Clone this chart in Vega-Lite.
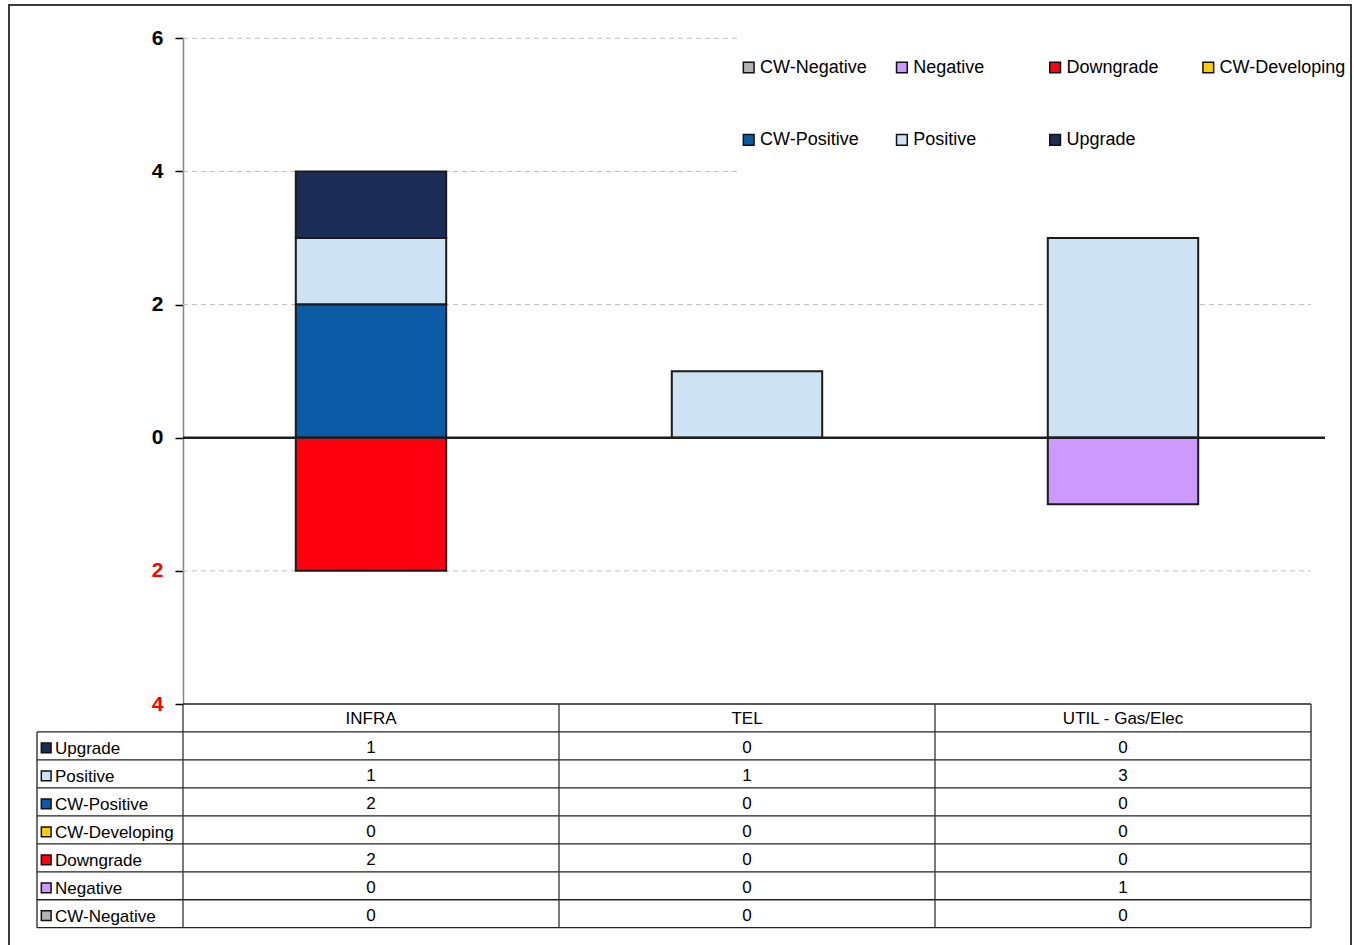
{
  "$schema": "https://vega.github.io/schema/vega-lite/v6.json",
  "width": 1342,
  "height": 941,
  "autosize": {"type": "none"},
  "padding": {"left": 9, "top": 5, "right": 3, "bottom": 0},
  "background": "white",
  "view": {"stroke": "#3a3a3a", "strokeWidth": 2},
  "config": {"font": "Liberation Sans"},
  "datasets": {
    "cells": [
      {"cat": "INFRA", "status": "Upgrade", "n": 1, "bar": 1},
      {"cat": "INFRA", "status": "Positive", "n": 1, "bar": 1},
      {"cat": "INFRA", "status": "CW-Positive", "n": 2, "bar": 2},
      {"cat": "INFRA", "status": "CW-Developing", "n": 0, "bar": 0},
      {"cat": "INFRA", "status": "Downgrade", "n": 2, "bar": -2},
      {"cat": "INFRA", "status": "Negative", "n": 0, "bar": 0},
      {"cat": "INFRA", "status": "CW-Negative", "n": 0, "bar": 0},
      {"cat": "TEL", "status": "Upgrade", "n": 0, "bar": 0},
      {"cat": "TEL", "status": "Positive", "n": 1, "bar": 1},
      {"cat": "TEL", "status": "CW-Positive", "n": 0, "bar": 0},
      {"cat": "TEL", "status": "CW-Developing", "n": 0, "bar": 0},
      {"cat": "TEL", "status": "Downgrade", "n": 0, "bar": 0},
      {"cat": "TEL", "status": "Negative", "n": 0, "bar": 0},
      {"cat": "TEL", "status": "CW-Negative", "n": 0, "bar": 0},
      {"cat": "UTIL - Gas/Elec", "status": "Upgrade", "n": 0, "bar": 0},
      {"cat": "UTIL - Gas/Elec", "status": "Positive", "n": 3, "bar": 3},
      {"cat": "UTIL - Gas/Elec", "status": "CW-Positive", "n": 0, "bar": 0},
      {"cat": "UTIL - Gas/Elec", "status": "CW-Developing", "n": 0, "bar": 0},
      {"cat": "UTIL - Gas/Elec", "status": "Downgrade", "n": 0, "bar": 0},
      {"cat": "UTIL - Gas/Elec", "status": "Negative", "n": 1, "bar": -1},
      {"cat": "UTIL - Gas/Elec", "status": "CW-Negative", "n": 0, "bar": 0}
    ],
    "cats": [{"cat": "INFRA"}, {"cat": "TEL"}, {"cat": "UTIL - Gas/Elec"}],
    "statuses": [
      {"status": "Upgrade"}, {"status": "Positive"}, {"status": "CW-Positive"},
      {"status": "CW-Developing"}, {"status": "Downgrade"}, {"status": "Negative"},
      {"status": "CW-Negative"}
    ],
    "one": [{}]
  },
  "layer": [
    {
      "layer": [
        {
          "data": {"values": [{"v": 6}, {"v": 4}]},
          "mark": {"type": "rule", "stroke": "#c0c0c0", "strokeWidth": 1, "strokeDash": [5, 4]},
          "encoding": {
            "y": {
              "field": "v", "type": "quantitative",
              "scale": {"domain": [-4, 6], "range": [699, 33.3], "nice": false, "zero": false},
              "axis": {
                "offset": -174, "values": [-4, -2, 0, 2, 4, 6],
                "labelExpr": "abs(datum.value)",
                "labelFontSize": 21, "labelFontWeight": "bold", "labelFont": "Liberation Sans",
                "labelColor": {"condition": {"test": "datum.value < 0", "value": "#ff0000"}, "value": "#000000"},
                "labelPadding": 12, "tickSize": 8, "tickColor": "#000000", "tickWidth": 1.5,
                "domainColor": "#858585", "domainWidth": 1.5, "grid": false, "title": null
              }
            },
            "x": {
              "datum": "INFRA", "type": "nominal", "bandPosition": 0,
              "scale": {"type": "band", "domain": ["INFRA", "TEL", "UTIL - Gas/Elec"], "range": [174, 1302], "paddingInner": 0, "paddingOuter": 0},
              "axis": null
            },
            "x2": {"datum": "TEL", "bandPosition": 0.476}
          }
        },
        {
          "data": {"values": [{"v": 2}, {"v": -2}]},
          "mark": {"type": "rule", "stroke": "#c0c0c0", "strokeWidth": 1, "strokeDash": [5, 4]},
          "encoding": {
            "y": {"field": "v", "type": "quantitative"},
            "x": {"datum": "INFRA", "type": "nominal", "bandPosition": 0, "axis": null},
            "x2": {"datum": "UTIL - Gas/Elec", "bandPosition": 1}
          }
        },
        {
          "data": {"name": "cells"},
          "transform": [{"filter": "datum.bar != 0"}],
          "mark": {"type": "bar", "stroke": "#1a1a1a", "strokeWidth": 2, "width": {"band": 0.4}},
          "encoding": {
            "x": {"field": "cat", "type": "nominal", "axis": null},
            "y": {"field": "bar", "type": "quantitative", "stack": "zero"},
            "color": {
              "field": "status", "type": "nominal",
              "scale": {
                "domain": ["CW-Negative", "Negative", "Downgrade", "CW-Developing", "CW-Positive", "Positive", "Upgrade"],
                "range": ["#b2b2b2", "#cc99ff", "#ff0011", "#ffcc00", "#0b5aa6", "#cde2f2", "#1b2d57"]
              },
              "legend": {
                "orient": "none", "legendX": 730.7, "legendY": 53.5,
                "direction": "horizontal", "columns": 4, "gridAlign": "all",
                "columnPadding": 6.2, "rowPadding": 54.3, "padding": 0,
                "symbolType": "square", "symbolSize": 115,
                "symbolStrokeColor": "#111111", "symbolStrokeWidth": 1.5, "symbolOpacity": 1,
                "labelFontSize": 18, "labelFont": "Liberation Sans", "labelColor": "#000000",
                "labelOffset": 2.3, "labelLimit": 400, "title": null
              }
            },
            "order": {"field": "status", "sort": "ascending"}
          }
        },
        {
          "data": {"name": "one"},
          "mark": {"type": "rule", "stroke": "#1e1e1e", "strokeWidth": 2.5},
          "encoding": {
            "y": {"datum": 0, "type": "quantitative"},
            "x": {"datum": "INFRA", "type": "nominal", "bandPosition": 0, "axis": null},
            "x2": {"datum": "UTIL - Gas/Elec", "bandPosition": 1.0372}
          }
        }
      ]
    },
    {
      "layer": [
        {
          "data": {"name": "statuses"},
          "mark": {"type": "rule", "stroke": "#222222", "strokeWidth": 1.3},
          "encoding": {
            "y": {
              "field": "status", "type": "nominal", "bandPosition": 0,
              "scale": {"type": "band", "domain": ["header", "Upgrade", "Positive", "CW-Positive", "CW-Developing", "Downgrade", "Negative", "CW-Negative"], "range": [699, 922.7], "paddingInner": 0, "paddingOuter": 0},
              "axis": null
            },
            "x": {"datum": "INFRA", "type": "nominal", "bandPosition": -0.3883, "axis": null},
            "x2": {"datum": "UTIL - Gas/Elec", "bandPosition": 1}
          }
        },
        {
          "data": {"name": "one"},
          "mark": {"type": "rule", "stroke": "#222222", "strokeWidth": 1.3},
          "encoding": {
            "y": {"datum": "CW-Negative", "type": "nominal", "bandPosition": 1, "axis": null},
            "x": {"datum": "INFRA", "type": "nominal", "bandPosition": -0.3883, "axis": null},
            "x2": {"datum": "UTIL - Gas/Elec", "bandPosition": 1}
          }
        },
        {
          "data": {"name": "one"},
          "mark": {"type": "rule", "stroke": "#222222", "strokeWidth": 1.3},
          "encoding": {
            "y": {"datum": "header", "type": "nominal", "bandPosition": 0, "axis": null},
            "x": {"datum": "INFRA", "type": "nominal", "bandPosition": 0, "axis": null},
            "x2": {"datum": "UTIL - Gas/Elec", "bandPosition": 1}
          }
        },
        {
          "data": {"name": "cats"},
          "mark": {"type": "rule", "stroke": "#333333", "strokeWidth": 1.3},
          "encoding": {
            "x": {"field": "cat", "type": "nominal", "bandPosition": 0, "axis": null},
            "y": {"datum": "header", "type": "nominal", "bandPosition": 0, "axis": null},
            "y2": {"datum": "CW-Negative", "bandPosition": 1}
          }
        },
        {
          "data": {"name": "one"},
          "mark": {"type": "rule", "stroke": "#222222", "strokeWidth": 1.3},
          "encoding": {
            "x": {"datum": "UTIL - Gas/Elec", "type": "nominal", "bandPosition": 1, "axis": null},
            "y": {"datum": "header", "type": "nominal", "bandPosition": 0, "axis": null},
            "y2": {"datum": "CW-Negative", "bandPosition": 1}
          }
        },
        {
          "data": {"name": "one"},
          "mark": {"type": "rule", "stroke": "#222222", "strokeWidth": 1.3},
          "encoding": {
            "x": {"datum": "INFRA", "type": "nominal", "bandPosition": -0.3883, "axis": null},
            "y": {"datum": "Upgrade", "type": "nominal", "bandPosition": 0, "axis": null},
            "y2": {"datum": "CW-Negative", "bandPosition": 1}
          }
        },
        {
          "data": {"name": "cats"},
          "mark": {"type": "text", "fontSize": 17, "color": "#000000", "align": "center", "baseline": "middle", "dy": 1.5},
          "encoding": {
            "x": {"field": "cat", "type": "nominal", "axis": null},
            "y": {"datum": "header", "type": "nominal", "axis": null},
            "text": {"field": "cat"}
          }
        },
        {
          "data": {"name": "cells"},
          "mark": {"type": "text", "fontSize": 17, "color": "#000000", "align": "center", "baseline": "middle", "dy": 2},
          "encoding": {
            "x": {"field": "cat", "type": "nominal", "axis": null},
            "y": {"field": "status", "type": "nominal", "axis": null},
            "text": {"field": "n", "type": "quantitative"}
          }
        },
        {
          "data": {"name": "statuses"},
          "mark": {"type": "text", "fontSize": 17, "color": "#000000", "align": "left", "baseline": "middle", "dy": 3},
          "encoding": {
            "x": {"datum": "INFRA", "type": "nominal", "bandPosition": -0.3404, "axis": null},
            "y": {"field": "status", "type": "nominal", "axis": null},
            "text": {"field": "status"}
          }
        },
        {
          "data": {"name": "statuses"},
          "mark": {"type": "square", "size": 95, "filled": true, "opacity": 1, "stroke": "#111111", "strokeWidth": 1.5, "yOffset": 2},
          "encoding": {
            "x": {"datum": "INFRA", "type": "nominal", "bandPosition": -0.3638, "axis": null},
            "y": {"field": "status", "type": "nominal", "axis": null},
            "color": {"field": "status", "type": "nominal", "legend": null}
          }
        }
      ]
    }
  ],
  "resolve": {"scale": {"y": "independent"}}
}
